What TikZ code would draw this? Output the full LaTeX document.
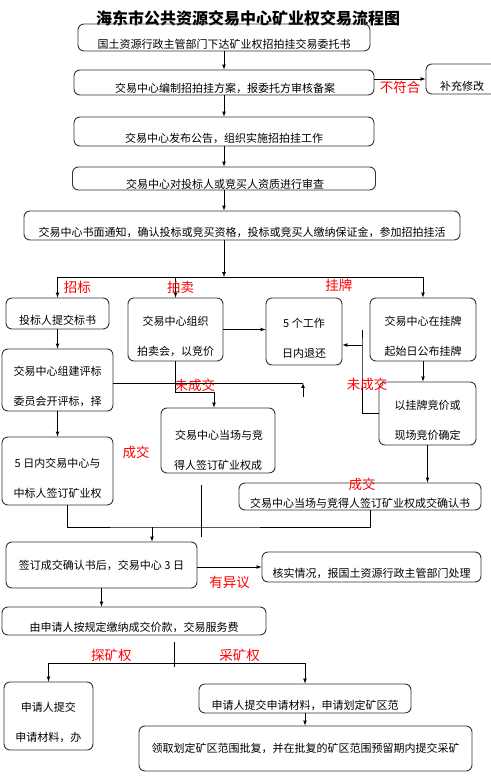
\documentclass[tikz,border=0pt]{standalone}
\usepackage{fontspec}
\setmainfont{Noto Sans CJK SC}
\newcommand{\lowstrut}[1][23pt]{\rule{0pt}{#1}}

\begin{document}
\begin{tikzpicture}[
    x=1pt, y=-1pt,
    box/.style={rectangle, draw=black!80, line width=0.9pt, rounded corners=6pt, inner sep=0.5pt, align=center, font=\fontsize{11}{13}\selectfont},
    boxsize/.style 2 args={minimum width=#1pt, minimum height=#2pt},
    arrow/.style={-latex, line width=0.7pt},
    line/.style={line width=0.7pt},
    tag/.style={text=red, inner sep=1pt, font=\fontsize{13.5}{15}\selectfont},
    heading/.style={font=\fontsize{16}{18}\selectfont\bfseries}
]
    \useasboundingbox[fill=white] (0,0) rectangle (490,784);

    \node (title) at (248,18) [heading] {海东市公共资源交易中心矿业权交易流程图};

    \node (task) at (224,37.5) [box, boxsize={292}{27}] {\lowstrut 国土资源行政主管部门下达矿业权招拍挂交易委托书};
    \node (plan) at (224,82.5) [box, boxsize={300}{25}] {\lowstrut[21pt] 交易中心编制招拍挂方案，报委托方审核备案};
    \node (fix) at (462,79) [box, boxsize={72}{30}] {\lowstrut 补充修改};
    \node (notice) at (224,131.5) [box, boxsize={300}{29}] {\lowstrut 交易中心发布公告，组织实施招拍挂工作};
    \node (audit) at (224,178.5) [box, boxsize={303}{23}] {\lowstrut[20pt] 交易中心对投标人或竞买人资质进行审查};
    \node (inform) at (242,225.5) [box, boxsize={436}{29}] {\lowstrut 交易中心书面通知，确认投标或竞买资格，投标或竞买人缴纳保证金，参加招拍挂活};

    \node (bid) at (57.5,313.5) [box, boxsize={103}{31}] {\lowstrut 投标人提交标书};
    \node (auction) at (175.5,329.5) [box, boxsize={95}{63}] {\lowstrut 交易中心组织\\[17pt]拍卖会，以竞价};
    \node (refund) at (304,331.5) [box, boxsize={76}{67}] {\lowstrut 5 个工作\\[17pt]日内退还};
    \node (listing) at (423,329.5) [box, boxsize={106}{63}] {\lowstrut 交易中心在挂牌\\[17pt]起始日公布挂牌};

    \node (panel) at (57.5,380) [box, boxsize={111}{62}] {\lowstrut 交易中心组建评标\\[17pt]委员会开评标，择};
    \node (bidprice) at (427.5,413.5) [box, boxsize={97}{63}] {\lowstrut 以挂牌竞价或\\[17pt]现场竞价确定};
    \node (onsite) at (218,440.5) [box, boxsize={114}{65}] {\lowstrut[28pt] 交易中心当场与竞\\[17pt]得人签订矿业权成};
    \node (sign5) at (57.5,471) [box, boxsize={111}{68}] {\lowstrut 5 日内交易中心与\\[17pt]中标人签订矿业权};
    \node (confirm) at (360,496.5) [box, boxsize={242}{27}] {\lowstrut 交易中心当场与竞得人签订矿业权成交确认书};

    \node (after) at (101.5,565) [box, boxsize={191}{46}] {签订成交确认书后，交易中心 3 日};
    \node (verify) at (371.5,567) [box, boxsize={219}{30}] {\lowstrut 核实情况，报国土资源行政主管部门处理};
    \node (pay) at (134,621) [box, boxsize={264}{28}] {\lowstrut 由申请人按规定缴纳成交价款，交易服务费};

    \node (explore) at (48.5,716) [box, boxsize={89}{68}] {\lowstrut 申请人提交\\[17pt]申请材料，办};
    \node (mining) at (305,698.5) [box, boxsize={212}{29}] {\lowstrut 申请人提交申请材料，申请划定矿区范};
    \node (receive) at (305.5,748.5) [box, boxsize={333}{45}] {领取划定矿区范围批复，并在批复的矿区范围预留期内提交采矿};

    \draw[arrow] (task) -- (plan);
    \draw[arrow] (plan.east |- fix.west) -- (fix.west) node[tag, midway, below=1pt] {不符合};
    \draw[arrow] (plan) -- (notice);
    \draw[arrow] (notice) -- (audit);
    \draw[arrow] (audit.south) -- (audit.south |- inform.north);

    \coordinate (split) at (224,277);
    \draw[arrow] (inform.south -| split) -- (split);
    \draw[line] (bid.north |- split) -- (listing.north |- split) node[tag, pos=0.77, below=1pt] {挂牌};
    \draw[arrow] (bid.north |- split) -- (bid.north) node[tag, midway, right=5pt] {招标};
    \draw[arrow] (auction.north |- split) -- (auction.north) node[tag, midway, xshift=5pt] {拍卖};
    \draw[arrow] (listing.north |- split) -- (listing.north);

    \draw[arrow] (auction.east) -- (auction.east -| refund.west);
    \draw[arrow] (listing.south) -- (listing.south |- bidprice.north);

    \coordinate (back) at (362,345);
    \draw[line] (bidprice.west) -| (back) -- ++(0,-15);
    \draw[arrow] (back) -- (back -| refund.east);
    \node (nolist) at (367,384) [tag] {未成交};

    \draw[arrow] (auction.south) -- ++(0,31) -| ([xshift=-4pt]onsite.north) node[tag, pos=0.25, above=-1pt] {未成交};

    \coordinate (mid) at (303,383);
    \draw[line] (panel.east |- mid) -- (mid);
    \draw[arrow] ([yshift=-14pt]mid) -- (mid);

    \draw[arrow] (bid) -- (panel);
    \draw[arrow] (panel) -- (sign5);
    \node (deal1) at (136,452) [tag] {成交};

    \draw[line] ([xshift=-17pt, yshift=-12pt]onsite.south) -- ++(0,52);
    \coordinate (join) at (152,527);
    \draw[line] ([xshift=10pt]sign5.south) |- (join) -| ([xshift=10pt]confirm.south);
    \draw[arrow] (join) -- (join |- after.north);

    \draw[arrow] (bidprice.south) -- (bidprice.south |- confirm.north);
    \node (deal2) at (362,484) [tag] {成交};

    \draw[arrow] (after.east |- verify.west) -- (verify.west) node[tag, midway, below=8pt] {有异议};
    \draw[arrow] (after.south) -- (after.south |- pay.north);

    \coordinate (fork) at (174,663);
    \draw[line] ([yshift=-7pt]fork |- pay.south) -- ++(0,25);
    \draw[arrow] (fork) -| (explore.north) node[tag, pos=0.25, above] {探矿权};
    \draw[arrow] (fork) -| (mining.north) node[tag, pos=0.25, above] {采矿权};
    \draw[arrow] (mining.south) -- (mining.south |- receive.north);

\end{tikzpicture}
\end{document}
